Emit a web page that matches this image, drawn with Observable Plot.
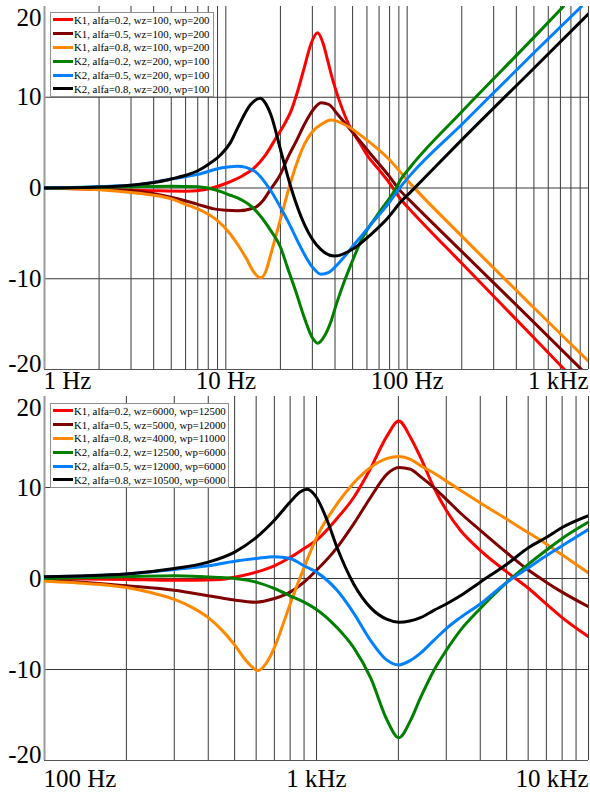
<!DOCTYPE html>
<html>
<head>
<meta charset="utf-8">
<script src="https://cdn.jsdelivr.net/npm/d3@7"></script>
<script src="https://cdn.jsdelivr.net/npm/@observablehq/plot@0.6"></script>
<style>
  html, body { margin: 0; padding: 0; background: #fff; }
  .panel { position: relative; width: 590px; }
  .panel svg { display: block; overflow: visible; }
  .legend { position: absolute; background: #fff; border: 1px solid #909090; box-sizing: border-box;
            font-family: "Liberation Serif", "Times New Roman", serif; font-size: 10.8px; color: #000; padding-top: 0px; }
  .legend .row { height: 13.8px; display: flex; align-items: center; white-space: nowrap; }
  .legend .sw { width: 20px; height: 3px; margin-left: 1.5px; margin-right: 1.5px; flex: none; }
</style>
</head>
<body>
<div id="top" class="panel"></div>
<div id="bottom" class="panel"></div>
<script>
// ---------- labels & ticks ----------
const colors = ["#ff0000", "#800000", "#ff8800", "#008000", "#0080ff", "#000000"];
const topLegend = [
  "K1, alfa=0.2, wz=100, wp=200",
  "K1, alfa=0.5, wz=100, wp=200",
  "K1, alfa=0.8, wz=100, wp=200",
  "K2, alfa=0.2, wz=200, wp=100",
  "K2, alfa=0.5, wz=200, wp=100",
  "K2, alfa=0.8, wz=200, wp=100"
];
const bottomLegend = [
  "K1, alfa=0.2, wz=6000, wp=12500",
  "K1, alfa=0.5, wz=5000, wp=12000",
  "K1, alfa=0.8, wz=4000, wp=11000",
  "K2, alfa=0.2, wz=12500, wp=6000",
  "K2, alfa=0.5, wz=12000, wp=6000",
  "K2, alfa=0.8, wz=10500, wp=6000"
];
const yTicksInner = [-10, 0, 10];
const yTickTop = [20];
const yTickBottom = [-20];
const yGrid = [-10, 0, 10];
const topTicks = [1, 10, 100, 1000];
const topTickLabels = ["1 Hz", "10 Hz", "100 Hz", "1 kHz"];
const bottomTicks = [100, 1000, 10000];
const bottomTickLabels = ["100 Hz", "1 kHz", "10 kHz"];
const topGrid = [2,3,4,5,6,7,8,9,10,20,30,40,50,60,70,80,90,100,200,300,400,500,600,700,800,900,1000];
const bottomGrid = [200,300,400,500,600,700,800,900,1000,2000,3000,4000,5000,6000,7000,8000,9000,10000];

// ---------- top panel series: [frequency Hz, dB] ----------
const topK1a02 = [[1,0],[2,-0.15],[4,-0.3],[6,-0.35],[8,-0.1],[9.4,0.3],[10.6,0.7],[12.5,1.4],[14.3,2.2],[16.5,3.6],[18.9,5.5],[21,7],[22.9,8.5],[25,10.8],[27.1,13.3],[29.5,15.9],[32.1,17.1],[34.3,16],[36.5,14],[39,11.8],[42.3,9.6],[49,6.5],[55,4.9],[60.7,3.5],[70,2],[78.2,0.8],[92.6,-1.3],[105,-2.5],[200,-8.3],[500,-16.5],[737,-20]];
const topK1a05 = [[1,0],[2,-0.1],[3.4,-0.4],[5.2,-1.1],[7,-1.8],[8.6,-2.3],[10,-2.45],[11.6,-2.5],[14.3,-2.2],[16,-1.4],[17.7,-0.1],[20,1.5],[21.9,3.3],[24.5,5.2],[27.1,7],[30,8.5],[33.5,9.4],[37,9.2],[41.4,8.1],[51.2,5.9],[63.2,3.7],[78.2,1.5],[92.6,-0.4],[105,-1.5],[200,-7],[500,-14.8],[915,-20]];
const topK1a08 = [[1,0],[2,-0.2],[3,-0.5],[4,-0.8],[5,-1.2],[6,-1.8],[7,-2.3],[8,-2.9],[9,-3.6],[10.6,-5.1],[11.6,-6.2],[13,-7.8],[14.3,-9.3],[15.6,-9.9],[16.6,-9.2],[17.7,-7.3],[20.1,-3.3],[22.9,0.8],[27.1,4.8],[30,6.2],[33.5,7],[38,7.5],[47,6.8],[58.1,5.5],[78.2,3.3],[105,0.4],[200,-5.3],[500,-13.2],[1000,-19.1]];
const topK2a02 = [[1,0],[3,0.15],[5,0.2],[7,0.15],[8,0],[9.4,-0.4],[10.6,-0.8],[11.6,-1.1],[14.3,-2.3],[17.7,-4.7],[20,-6.5],[21.9,-8.8],[24.5,-11.6],[27.1,-14.3],[30,-16.5],[32.1,-17.1],[35,-16.3],[38,-14.7],[41,-12.6],[45,-10.3],[50,-8],[55.7,-5.8],[68.9,-2.9],[85.1,-0.3],[92.6,1],[105,2.4],[200,8.4],[500,16.6],[727,20]];
const topK2a05 = [[1,0],[3,0.3],[5,1],[7,1.5],[9.4,2.2],[11.6,2.4],[14.3,1.9],[17.7,-0.3],[21.9,-3.6],[27.1,-7.3],[30,-8.7],[33.5,-9.5],[37,-9.3],[41.4,-8.4],[51.2,-6.2],[63.2,-4],[78.2,-1.8],[92.6,0.2],[105,1.5],[200,7],[500,14.9],[915,20]];
const topK2a08 = [[1,0],[2,0.1],[3,0.3],[4,0.6],[5,1],[6,1.4],[7,1.9],[8,2.6],[9.4,3.7],[10.6,5],[11.6,6.6],[13.7,9.2],[15.5,9.9],[16.6,9.3],[17.7,8.1],[20.1,4.1],[22.9,0],[27.1,-4],[33.5,-6.8],[39.7,-7.5],[51.2,-6.6],[63.2,-5.1],[78.2,-3.3],[92.6,-1.5],[105,-0.4],[200,5.3],[500,13.2],[1000,19.2]];

// ---------- bottom panel series: [frequency Hz, dB] ----------
const botK1a02 = [[100,0],[200,-0.1],[300,-0.2],[443,-0.1],[500,0.15],[600,0.7],[700,1.4],[800,2.3],[900,3.3],[1000,4.2],[1190,6.6],[1370,8.9],[1580,12.1],[1820,15.7],[2007,17.3],[2216,15.5],[2412,13.3],[2700,10],[3000,7.5],[3380,5.3],[4000,3.1],[5020,0.7],[6030,-1.1],[6990,-2.8],[8000,-4.3],[10000,-6.4]];
const botK1a05 = [[100,-0.1],[200,-0.8],[300,-1.3],[400,-1.9],[483,-2.3],[600,-2.6],[700,-2.2],[800,-1.5],[900,-0.4],[1000,0.9],[1190,3.4],[1370,6],[1580,8.9],[1820,11.5],[2007,12.2],[2216,12.0],[2412,11.2],[2700,10.0],[3000,8.7],[3380,7.2],[4000,5.3],[5020,2.8],[6030,0.9],[6990,-0.4],[8000,-1.5],[10000,-3.1]];
const botK1a08 = [[100,-0.3],[150,-0.6],[200,-1.0],[250,-1.6],[300,-2.3],[350,-3.2],[400,-4.3],[450,-5.7],[500,-7.3],[550,-9.0],[610,-10.1],[650,-9.4],[700,-7.6],[750,-5.2],[800,-2.8],[900,1.2],[1000,4.5],[1190,8.2],[1370,10.5],[1580,12.2],[1820,13.2],[2007,13.4],[2216,13.1],[2412,12.4],[2700,11.6],[3000,10.7],[3380,9.7],[4000,8.3],[5020,6.5],[6030,5.0],[6990,3.8],[8000,2.6],[10000,0.6]];
const botK2a02 = [[100,0],[200,0.2],[300,0.3],[443,0.1],[500,0],[600,-0.4],[700,-1.1],[800,-1.9],[900,-2.6],[1000,-3.4],[1190,-5.4],[1370,-7.6],[1580,-10.9],[1820,-15.6],[2007,-17.5],[2216,-15.6],[2412,-13.1],[2700,-10.1],[3000,-7.9],[3380,-5.7],[4000,-3.3],[5020,-0.4],[6030,1.6],[6990,3.1],[8000,4.4],[10000,6.2]];
const botK2a05 = [[100,0.2],[200,0.5],[300,1],[400,1.4],[500,1.9],[600,2.2],[700,2.4],[800,2.2],[900,1.4],[1000,0.7],[1190,-1.3],[1370,-3.8],[1580,-6.8],[1820,-9],[2007,-9.5],[2216,-9.0],[2412,-8.2],[2700,-6.8],[3000,-5.5],[3380,-4.3],[4000,-2.8],[5020,-0.4],[6030,1.2],[6990,2.5],[8000,3.6],[10000,5.4]];
const botK2a08 = [[100,0.2],[200,0.5],[300,1.1],[400,1.8],[500,2.9],[600,4.5],[700,6.4],[800,8.4],[870,9.5],[925,9.8],[1000,8.9],[1094,6.4],[1190,3.4],[1370,-0.6],[1580,-3.2],[1820,-4.5],[2007,-4.8],[2412,-4.3],[2700,-3.5],[3000,-2.8],[3380,-1.9],[4000,-0.4],[5020,1.6],[6030,3.4],[6990,4.5],[8000,5.6],[10000,6.9]];

const topSeries = [topK1a02, topK1a05, topK1a08, topK2a02, topK2a05, topK2a08];
const bottomSeries = [botK1a02, botK1a05, botK1a08, botK2a02, botK2a05, botK2a08];

const FONT = "'Liberation Serif', 'Times New Roman', serif";
const LABEL_SIZE = 25;

function makePanel({series, domain, grid, ticks, tickLabels, height, marginTop, marginBottom, labelDy}) {
  const lines = series.map((s, i) => Plot.line(s, {
    x: d => d[0], y: d => d[1], stroke: colors[i], strokeWidth: 3, curve: "monotone-x", clip: true
  }));
  const tickData = ticks.map((t, i) => ({t, label: tickLabels[i]}));
  const n = tickData.length;
  const yText = (data, dy) => Plot.text(data, {y: d => d, text: d => String(d), frameAnchor: "left", textAnchor: "end", dx: -3, dy, fontSize: LABEL_SIZE});
  return Plot.plot({
    width: 590, height, marginLeft: 44, marginRight: 2, marginTop, marginBottom,
    style: {fontFamily: FONT, background: "transparent"},
    x: {type: "log", domain, axis: null},
    y: {domain: [-20, 20], axis: null},
    marks: [
      Plot.ruleX(grid, {stroke: "#3a3a3a", strokeWidth: 1}),
      Plot.ruleY(yGrid, {stroke: "#3a3a3a", strokeWidth: 1}),
      Plot.ruleY([-20], {stroke: "#555", strokeWidth: 1.2}),
      Plot.ruleX([domain[0]], {stroke: "#9a9a9a", strokeWidth: 2}),
      ...lines,
      yText(yTicksInner, 0),
      yText(yTickTop, 11),
      yText(yTickBottom, -6),
      Plot.text(tickData.slice(0, 1), {x: "t", text: "label", frameAnchor: "bottom", textAnchor: "start", dx: -1, dy: labelDy, fontSize: LABEL_SIZE}),
      Plot.text(tickData.slice(1, n - 1), {x: "t", text: "label", frameAnchor: "bottom", textAnchor: "middle", dy: labelDy, fontSize: LABEL_SIZE}),
      Plot.text(tickData.slice(n - 1), {x: "t", text: "label", frameAnchor: "bottom", textAnchor: "end", dy: labelDy, fontSize: LABEL_SIZE})
    ]
  });
}

function addLegend(container, labels, box) {
  const lg = document.createElement("div");
  lg.className = "legend";
  Object.assign(lg.style, {left: box.left + "px", top: box.top + "px", width: box.width + "px", height: box.height + "px"});
  labels.forEach((lab, i) => {
    const row = document.createElement("div");
    row.className = "row";
    const sw = document.createElement("span");
    sw.className = "sw";
    sw.style.background = colors[i];
    const tx = document.createElement("span");
    tx.textContent = lab;
    row.appendChild(sw); row.appendChild(tx);
    lg.appendChild(row);
  });
  container.appendChild(lg);
}

const topEl = document.getElementById("top");
topEl.appendChild(makePanel({series: topSeries, domain: [1, 1000], grid: topGrid, ticks: topTicks, tickLabels: topTickLabels,
  height: 392, marginTop: 6, marginBottom: 23, labelDy: 19}));
addLegend(topEl, topLegend, {left: 50, top: 12, width: 164, height: 85});

const botEl = document.getElementById("bottom");
botEl.appendChild(makePanel({series: bottomSeries, domain: [100, 10000], grid: bottomGrid, ticks: bottomTicks, tickLabels: bottomTickLabels,
  height: 405, marginTop: 4, marginBottom: 37, labelDy: 26}));
addLegend(botEl, bottomLegend, {left: 50, top: 11, width: 179, height: 85});
</script>
</body>
</html>
